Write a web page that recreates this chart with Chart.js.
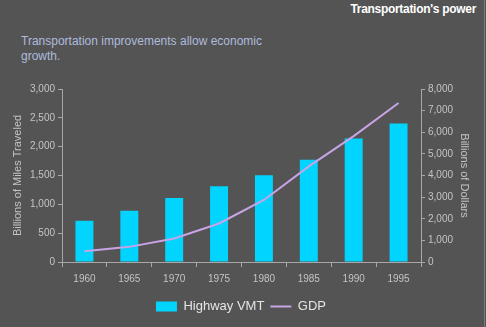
<!DOCTYPE html>
<html>
<head>
<meta charset="utf-8">
<script src="https://cdn.jsdelivr.net/npm/chart.js@4/dist/chart.umd.min.js"></script>
<style>
  html, body { margin: 0; padding: 0; background: #545454; }
  #page { position: relative; width: 486px; height: 327px; overflow: hidden; background: #545454; font-family: "Liberation Sans", Arial, sans-serif; }
  #edge { position: absolute; right: 1px; top: 0; width: 1px; height: 327px; background: #7a7a7a; }
  #head { position: absolute; right: 10px; top: 2px; color: #fff; font-weight: bold; font-size: 12px; letter-spacing: -0.3px; }
  #sub { position: absolute; left: 21px; top: 34px; color: #aebbdd; font-size: 12px; line-height: 15px; }
  #wrap { position: absolute; left: 0; top: 0; width: 486px; height: 327px; }
</style>
</head>
<body>
<div id="page">
  <div id="edge"></div>
  <div id="head">Transportation's power</div>
  <div id="sub">Transportation improvements allow economic<br>growth.</div>
  <div id="wrap"><canvas id="transport"></canvas></div>
</div>
<script>
const years = ["1960", "1965", "1970", "1975", "1980", "1985", "1990", "1995"];
const highwayVmt = [715, 890, 1110, 1313, 1505, 1774, 2140, 2402];
const gdp = [500, 700, 1085, 1780, 2870, 4420, 5820, 7350];

const barColor = "#00d4ff";
const lineColor = "#c8a4e6";
const tickColor = "#c4c4c4";
const axisColor = "#a8a8a8";
const font = "'Liberation Sans', Arial, sans-serif";

const ctx = document.getElementById("transport");

new Chart(ctx, {
    data: {
        labels: years,
        datasets: [{
            type: "line",
            label: "GDP",
            data: gdp,
            yAxisID: "yRight",
            borderColor: lineColor,
            backgroundColor: lineColor,
            borderWidth: 2,
            pointRadius: 0,
            pointStyle: "line",
            tension: 0,
            order: 0,
        }, {
            type: "bar",
            label: "Highway VMT",
            data: highwayVmt,
            yAxisID: "yLeft",
            backgroundColor: barColor,
            borderWidth: 0,
            pointStyle: "rect",
            categoryPercentage: 1,
            barPercentage: 0.4,
            order: 1,
        }],
    },
    options: {
        responsive: true,
        maintainAspectRatio: false,
        animation: false,
        layout: { padding: { left: 11, right: 15, top: 89, bottom: 4 } },
        plugins: {
            tooltip: { enabled: false },
            legend: {
                position: "bottom",
                reverse: true,
                labels: {
                    color: "#e4e4e4",
                    font: { family: font, size: 13 },
                    usePointStyle: true,
                    pointStyleWidth: 21,
                    boxHeight: 10,
                    padding: 6,
                },
            },
        },
        scales: {
            x: {
                offset: true,
                grid: { display: true, drawOnChartArea: false, tickLength: 5, color: axisColor, offset: true },
                border: { color: axisColor },
                ticks: { color: tickColor, font: { family: font, size: 10 }, padding: 6 },
                afterFit: s => { s.height += 3; },
            },
            yLeft: {
                position: "left",
                min: 0,
                max: 3000,
                grid: { drawOnChartArea: false, tickLength: 4, color: axisColor },
                border: { color: axisColor },
                ticks: { stepSize: 500, color: tickColor, font: { family: font, size: 10 }, padding: 3,
                    callback: v => v.toLocaleString("en-US") },
                title: { display: true, text: "Billions of Miles Traveled", color: tickColor, font: { family: font, size: 11 }, padding: 0 },
                afterFit: s => { s.width = 51; },
            },
            yRight: {
                position: "right",
                min: 0,
                max: 8000,
                grid: { drawOnChartArea: false, tickLength: 4, color: axisColor },
                border: { color: axisColor },
                ticks: { stepSize: 1000, color: tickColor, font: { family: font, size: 10 }, padding: 3,
                    callback: v => v.toLocaleString("en-US") },
                title: { display: true, text: "Billions of Dollars", color: tickColor, font: { family: font, size: 11 }, padding: 0 },
                afterFit: s => { s.width = 50; },
            },
        },
    },
});
</script>
</body>
</html>
